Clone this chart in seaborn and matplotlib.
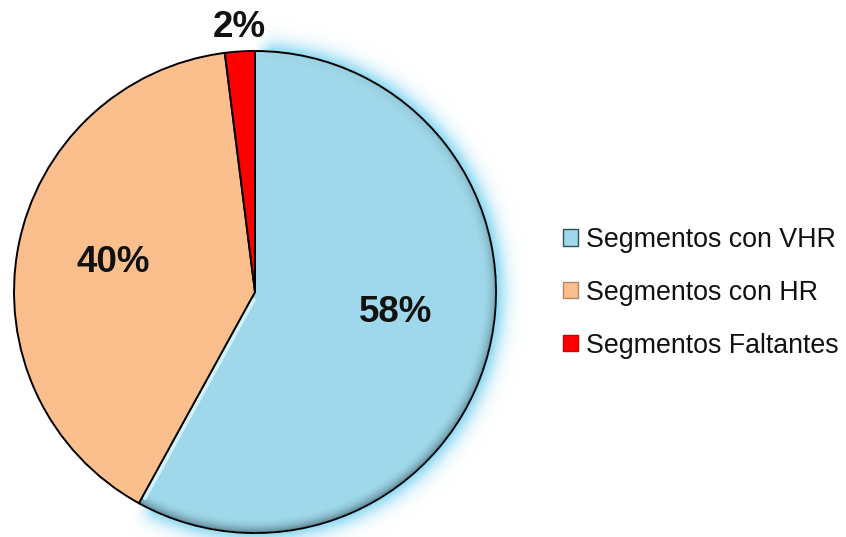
import numpy as np
import matplotlib
matplotlib.use("Agg")
import matplotlib.pyplot as plt
from matplotlib.patches import Patch
import seaborn as sns

# Share of road segments by resolution class
categories = ["Segmentos con VHR", "Segmentos con HR", "Segmentos Faltantes"]
shares = [58, 40, 2]
pct_labels = ["58%", "40%", "2%"]

colors = ["#9fd8ea", "#fbbf8d", "#ff0000"]

sns.set_theme(style="white")
plt.rcParams["font.family"] = ["Liberation Sans", "DejaVu Sans"]

W, H, DPI = 846, 537, 100
fig = plt.figure(figsize=(W / DPI, H / DPI), dpi=DPI)
fig.patch.set_facecolor("white")

# pie centre and radius in pixels
cx, cy, R = 255, 292, 241
ax = fig.add_axes([0, 0, 1, 1])

wedges, _ = ax.pie(
    shares, colors=colors, startangle=90, counterclock=False,
    wedgeprops=dict(edgecolor="black", linewidth=1.4),
)
ax.set_xlim(-cx / R, (W - cx) / R)
ax.set_ylim(-(H - cy) / R, cy / R)
ax.set_aspect("auto")
ax.axis("off")

# Soft glow and bevel on the first wedge
blue = wedges[0]
t1, t2 = blue.theta1, blue.theta2
xs = np.linspace(*ax.get_xlim(), W)
ys = np.linspace(*ax.get_ylim(), H)
X, Y = np.meshgrid(xs, ys)
r = np.hypot(X, Y)
ang = np.degrees(np.arctan2(Y, X))
rel = (ang - t1) % 360
span = t2 - t1
inside = rel <= span
edge_fade = np.clip(np.minimum(rel, span - rel) / 4.0, 0, 1)
glow = np.zeros((H, W, 4))
glow[..., 0], glow[..., 1], glow[..., 2] = 0.55, 0.85, 0.95
a = np.where((r > 1) & inside, np.exp(-((r - 1) / 0.045) ** 1.5) * 0.95, 0.0)
glow[..., 3] = a * edge_fade
ax.imshow(glow, extent=[xs[0], xs[-1], ys[0], ys[-1]], origin="lower",
          zorder=0, interpolation="bilinear", aspect="auto")

shade = np.zeros((H, W, 4))
shade[..., 0], shade[..., 1], shade[..., 2] = 0.15, 0.25, 0.3
wang = 0.5 + 0.5 * np.cos(np.radians(ang + 70))
s = np.clip((r - 0.94) / 0.06, 0, 1) ** 2 * 0.55 * wang
shade[..., 3] = np.where(r <= 1, s, 0)
im = ax.imshow(shade, extent=[xs[0], xs[-1], ys[0], ys[-1]], origin="lower",
               zorder=blue.get_zorder() + 0.1, interpolation="bilinear", aspect="auto")
im.set_clip_path(blue)

# light edge along the radial side of the first wedge
th = np.radians(t1)
nx, ny = np.cos(th + np.pi / 2), np.sin(th + np.pi / 2)
off = 0.012
ax.plot([off * nx + 0.03 * np.cos(th), off * nx + 0.97 * np.cos(th)],
        [off * ny + 0.03 * np.sin(th), off * ny + 0.97 * np.sin(th)],
        color="#d8f6ff", lw=2.5, alpha=0.9, solid_capstyle="round",
        zorder=blue.get_zorder() + 0.2)

# percentage labels (baseline positions in radius units)
label_pos = [(0.583, -0.1245), (-0.589, 0.083), (-0.064, 1.058)]
for txt, (lx, ly) in zip(pct_labels, label_pos):
    ax.text(lx, ly, txt, ha="center", va="baseline", fontsize=26.5,
            fontweight="bold", color="#111111", zorder=10)

handles = [Patch(facecolor=c, edgecolor=e, linewidth=1)
           for c, e in zip(colors, ["#2f4f5a", "#b08a6a", "#cc0000"])]
leg = fig.legend(handles, categories, loc="upper left",
                 bbox_to_anchor=(563 / W, 1 - 227 / H), frameon=False,
                 fontsize=19.3, handlelength=0.55, handleheight=0.55,
                 handletextpad=0.3, labelspacing=1.0, borderpad=0,
                 borderaxespad=0)
for t in leg.get_texts():
    t.set_color("#111111")

fig.savefig("out.png", dpi=DPI, facecolor="white")
